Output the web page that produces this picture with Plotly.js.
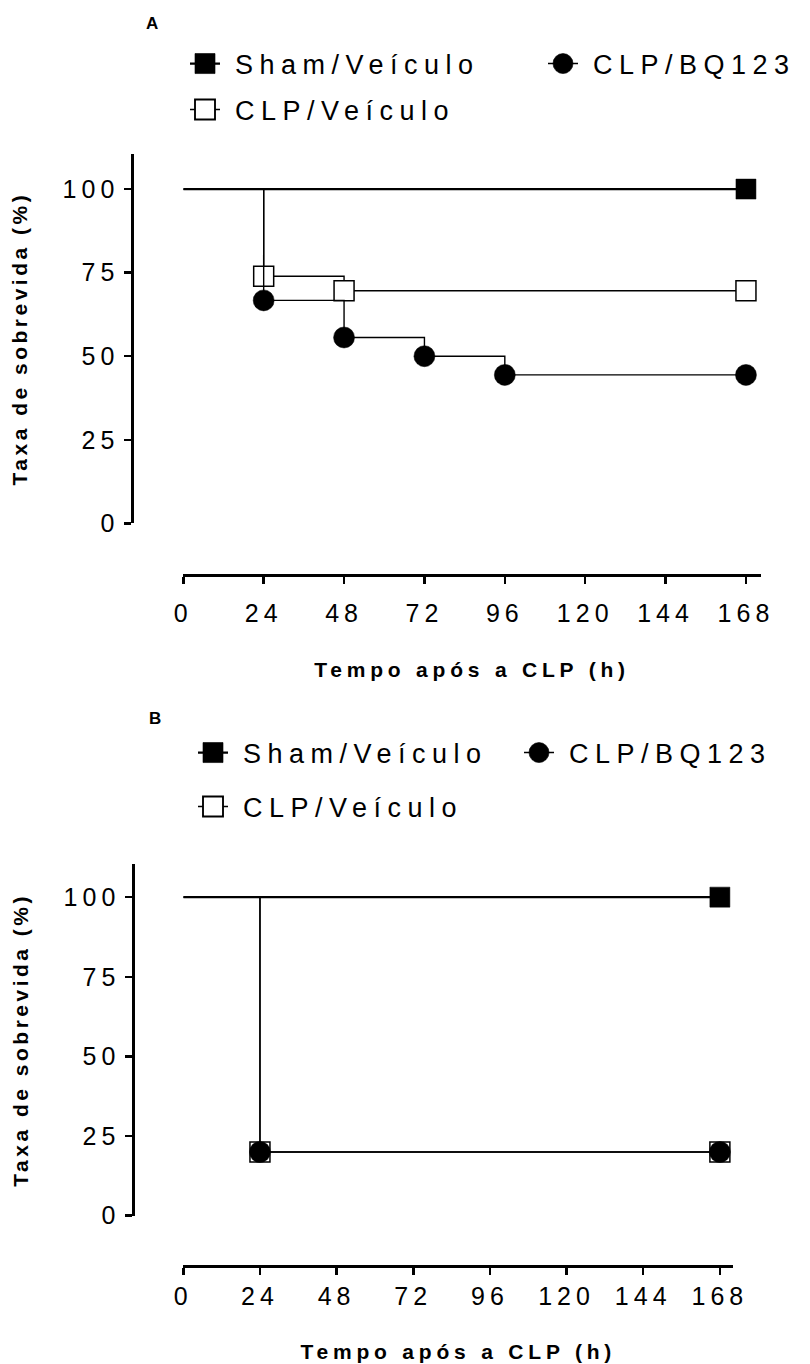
<!DOCTYPE html>
<html><head><meta charset="utf-8">
<script src="https://cdn.plot.ly/plotly-3.0.1.min.js"></script>
<style>
body{margin:0;background:#fff}
g.xtick text, g.ytick text, g.x2tick text, g.y2tick text {letter-spacing:5px}
text.legendtext, text.legend2text, text.legend3text, text.legend4text, text.legend5text, text.legend6text
  {letter-spacing:6.5px; transform:translateX(10px)}
text.xtitle, text.x2title {letter-spacing:4.8px}
text.ytitle, text.y2title {letter-spacing:3.5px}
</style>
</head><body><div id="chart" style="width:810px;height:1364px"></div>
<script>
// ---- data ----
const timeTicks = [0, 24, 48, 72, 96, 120, 144, 168];
const survTicks = [0, 25, 50, 75, 100];
const groupNames = ['Sham/Veículo', 'CLP/Veículo', 'CLP/BQ123'];
// Panel A (time in h, survival %)
const shamA_t = [0, 168];            const shamA_s = [100, 100];
const vehA_t  = [0, 24, 48, 168];    const vehA_s  = [100, 73.9, 69.6, 69.6];
const bqA_t   = [0, 24, 48, 72, 96, 168]; const bqA_s = [100, 66.7, 55.6, 50.0, 44.4, 44.4];
// Panel B
const shamB_t = [0, 168];            const shamB_s = [100, 100];
const vehB_t  = [0, 24, 168];        const vehB_s  = [100, 20, 20];
const bqB_t   = [0, 24, 168];        const bqB_s   = [100, 20, 20];

const F = '"Liberation Sans", Arial, Helvetica, sans-serif';
const W = 810, H = 1364;
const px = v => v / W;
const py = v => (H - v) / H;

function idx(n){ const a=[]; for(let i=1;i<n;i++) a.push(i); return a; }

function trace(t, s, name, kind, xa, ya, legend){
  const sym = kind === 'bq' ? 'circle' : 'square';
  const fill = kind === 'veh' ? '#ffffff' : '#000000';
  return {
    type:'scatter', mode:'lines+markers', x:t, y:s, name:name,
    xaxis:xa, yaxis:ya, legend:legend,
    line:{shape:'hv', color:'#000', width: kind==='sham' ? 2.2 : 1.4},
    marker:{symbol:sym, size: kind==='bq' ? 21 : 20, color:fill,
            line:{color:'#000', width: kind==='veh' ? 1.5 : 0.5}},
    selectedpoints: idx(t.length),
    selected:{marker:{opacity:1}},
    unselected:{marker:{opacity:0}},
    hoverinfo:'x+y+name'
  };
}

const data = [
  trace(shamA_t, shamA_s, groupNames[0], 'sham', 'x', 'y', 'legend'),
  trace(vehA_t,  vehA_s,  groupNames[1], 'veh',  'x', 'y', 'legend2'),
  trace(bqA_t,   bqA_s,   groupNames[2], 'bq',   'x', 'y', 'legend3'),
  trace(shamB_t, shamB_s, groupNames[0], 'sham', 'x2', 'y2', 'legend4'),
  trace(vehB_t,  vehB_s,  groupNames[1], 'veh',  'x2', 'y2', 'legend5'),
  trace(bqB_t,   bqB_s,   groupNames[2], 'bq',   'x2', 'y2', 'legend6')
];

const axBase = {
  showgrid:false, zeroline:false, showline:true, linecolor:'#000', linewidth:2.5,
  ticks:'outside', ticklen:7, tickwidth:2.5, tickcolor:'#000',
  tickfont:{family:F, size:25, color:'#000'}, fixedrange:true, automargin:false
};
const titleFont = {family:F, size:21, color:'#000', weight:700};

function leg(xc, yc){
  return {x:px(xc), y:py(yc), xanchor:'left', yanchor:'middle', orientation:'h',
          bgcolor:'rgba(0,0,0,0)', borderwidth:0,
          font:{family:F, size:27, color:'#000'}};
}

const layout = {
  width:W, height:H, margin:{l:0, r:0, t:0, b:0},
  paper_bgcolor:'#fff', plot_bgcolor:'rgba(0,0,0,0)',
  xaxis:Object.assign({}, axBase, {
    domain:[px(183.3), px(760.7)], range:[0, 172.4], tickvals:timeTicks,
    anchor:'free', position:py(575), ticklabelstandoff:8,
    title:{text:'Tempo após a CLP (h)', font:titleFont, standoff:36}
  }),
  yaxis:Object.assign({}, axBase, {
    domain:[py(523.3), py(154)], range:[0, 110.5], tickvals:survTicks,
    anchor:'free', position:px(132.3),
    title:{text:'Taxa de sobrevida (%)', font:titleFont, standoff:28}
  }),
  xaxis2:Object.assign({}, axBase, {
    domain:[px(183.3), px(733.3)], range:[0, 172.2], tickvals:timeTicks,
    anchor:'free', position:py(1266),
    title:{text:'Tempo após a CLP (h)', font:titleFont, standoff:35}
  }),
  yaxis2:Object.assign({}, axBase, {
    domain:[py(1215.7), py(864)], range:[0, 110.4], tickvals:survTicks,
    anchor:'free', position:px(133.3),
    title:{text:'Taxa de sobrevida (%)', font:titleFont, standoff:28}
  }),
  showlegend:true,
  legend:leg(185, 64),
  legend2:leg(185, 110),
  legend3:leg(543, 64),
  legend4:leg(193, 753),
  legend5:leg(193, 807),
  legend6:leg(519, 753),
  annotations:[
    {text:'A', x:px(152), y:py(24), xref:'paper', yref:'paper', showarrow:false,
     xanchor:'center', yanchor:'middle', font:{family:F, size:17, color:'#000', weight:700}},
    {text:'B', x:px(155), y:py(718), xref:'paper', yref:'paper', showarrow:false,
     xanchor:'center', yanchor:'middle', font:{family:F, size:17, color:'#000', weight:700}}
  ]
};

Plotly.newPlot('chart', data, layout, {displayModeBar:false, staticPlot:true}).then(function(gd){
  // enlarge legend symbols to match the plotted marker size
  gd.querySelectorAll('g.legendpoints path.scatterpts').forEach(function(p){
    const tr = p.getAttribute('transform') || '';
    if (tr.indexOf('scale') < 0) p.setAttribute('transform', tr + ' scale(1.25)');
  });
});
</script>
</body></html>
